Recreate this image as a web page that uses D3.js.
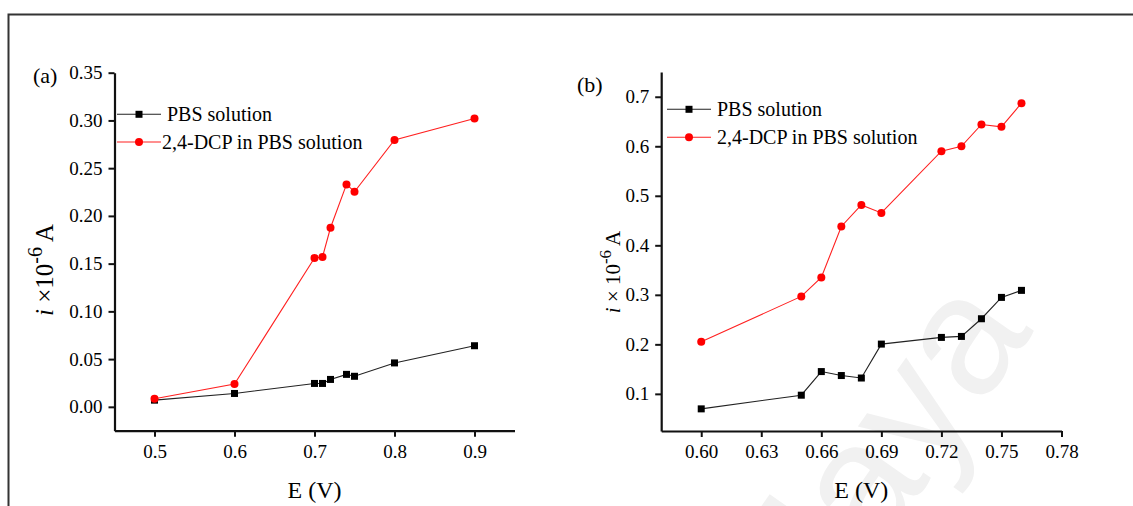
<!DOCTYPE html>
<html>
<head>
<meta charset="utf-8">
<script src="https://cdn.jsdelivr.net/npm/d3@7/dist/d3.min.js"></script>
<style>
  html, body { margin: 0; padding: 0; background: #fff; }
  svg { display: block; }
  text { font-family: "Liberation Serif", "Times New Roman", serif; fill: #000; }
</style>
</head>
<body>
<svg id="chart" width="1133" height="506"></svg>
<script>
// Panel (a): current vs potential
const potentialA = [0.5, 0.6, 0.7, 0.71, 0.72, 0.74, 0.75, 0.8, 0.9];
const pbsA = [0.007, 0.014, 0.0245, 0.0245, 0.0287, 0.034, 0.032, 0.046, 0.064];
const dcpA = [0.0084, 0.0238, 0.156, 0.157, 0.1876, 0.233, 0.2253, 0.2795, 0.302];
const xTicksA = [0.5, 0.6, 0.7, 0.8, 0.9];
const yTicksA = [0.00, 0.05, 0.10, 0.15, 0.20, 0.25, 0.30, 0.35];

// Panel (b): current vs potential, narrower window
const potentialB = [0.60, 0.65, 0.66, 0.67, 0.68, 0.69, 0.72, 0.73, 0.74, 0.75, 0.76];
const pbsB = [0.0697, 0.0973, 0.145, 0.137, 0.132, 0.2005, 0.214, 0.216, 0.2517, 0.2948, 0.309];
const dcpB = [0.205, 0.2968, 0.335, 0.438, 0.4815, 0.4654, 0.59, 0.60, 0.644, 0.6393, 0.687];
const xTicksB = [0.60, 0.63, 0.66, 0.69, 0.72, 0.75, 0.78];
const yTicksB = [0.1, 0.2, 0.3, 0.4, 0.5, 0.6, 0.7];

const seriesNames = ["PBS solution", "2,4-DCP in PBS solution"];

const svg = d3.select("#chart");

// faint diagonal watermark behind panel (b)
svg.append("text")
  .attr("transform", "translate(720,780) rotate(-55)")
  .style("font-family", "'Liberation Sans', Arial, sans-serif")
  .style("font-size", "170px")
  .style("fill", "#f1f1f1")
  .text("Malaya");

// outer frame (top and left edges)
svg.append("path")
  .attr("d", "M8.5,506 V14.5 H1133")
  .attr("fill", "none")
  .attr("stroke", "#333")
  .attr("stroke-width", 2);

function drawPanel(cfg) {
  const x = d3.scaleLinear().domain(cfg.xDomain).range(cfg.xRange);
  const y = d3.scaleLinear().domain(cfg.yDomain).range(cfg.yRange);
  const g = svg.append("g");

  const xAxis = g.append("g")
    .attr("transform", `translate(0,${cfg.yRange[0]})`)
    .call(d3.axisBottom(x).tickValues(cfg.xTicks).tickFormat(d3.format(cfg.xFmt))
      .tickSizeInner(6).tickSizeOuter(0).tickPadding(8));
  const yAxis = g.append("g")
    .attr("transform", `translate(${cfg.xRange[0]},0)`)
    .call(d3.axisLeft(y).tickValues(cfg.yTicks).tickFormat(d3.format(cfg.yFmt))
      .tickSizeInner(6).tickSizeOuter(0).tickPadding(6));
  [xAxis, yAxis].forEach(a => {
    a.attr("font-family", null).attr("font-size", null);
    a.select(".domain").attr("stroke", "#111").attr("stroke-width", 2.2);
    a.selectAll(".tick line").attr("stroke", "#111").attr("stroke-width", 2);
    a.selectAll(".tick text")
      .style("font-family", "'Liberation Serif', 'Times New Roman', serif")
      .style("font-size", "19px").attr("fill", "#000");
  });

  const line = d3.line().x(d => x(d[0])).y(d => y(d[1]));
  const black = cfg.xs.map((v, i) => [v, cfg.pbs[i]]);
  const red = cfg.xs.map((v, i) => [v, cfg.dcp[i]]);

  g.append("path").datum(black).attr("d", line)
    .attr("fill", "none").attr("stroke", "#222").attr("stroke-width", 1.1);
  g.append("path").datum(red).attr("d", line)
    .attr("fill", "none").attr("stroke", "#ff2020").attr("stroke-width", 1.1);

  g.selectAll(".sq").data(black).join("rect")
    .attr("x", d => x(d[0]) - 3.5).attr("y", d => y(d[1]) - 3.5)
    .attr("width", 7).attr("height", 7).attr("fill", "#000");
  g.selectAll(".ci").data(red).join("circle")
    .attr("cx", d => x(d[0])).attr("cy", d => y(d[1])).attr("r", 4)
    .attr("fill", "#ff0000");

  // legend
  const lg = cfg.legend;
  const rowsY = [lg.y0, lg.y1];
  const colors = ["#222", "#ff2020"];
  rowsY.forEach((ry, i) => {
    g.append("line").attr("x1", lg.x1).attr("x2", lg.x2).attr("y1", ry).attr("y2", ry)
      .attr("stroke", colors[i]).attr("stroke-width", 1.1);
    const mx = (lg.x1 + lg.x2) / 2;
    if (i === 0) {
      g.append("rect").attr("x", mx - 3.5).attr("y", ry - 3.5).attr("width", 7).attr("height", 7).attr("fill", "#000");
    } else {
      g.append("circle").attr("cx", mx).attr("cy", ry).attr("r", 4).attr("fill", "#ff0000");
    }
    g.append("text").attr("x", lg.tx[i]).attr("y", ry + 7)
      .style("font-size", "20px").text(seriesNames[i]);
  });

  // panel tag
  g.append("text").attr("x", cfg.tag.x).attr("y", cfg.tag.y)
    .style("font-size", "22px").text(cfg.tag.t);

  // axis titles
  const cx = (cfg.xRange[0] + cfg.xRange[1]) / 2;
  g.append("text").attr("x", cx).attr("y", cfg.xTitleY)
    .attr("text-anchor", "middle").style("font-size", "24px").text("E (V)");

  const yt = g.append("text")
    .attr("transform", `translate(${cfg.yTitle.x},${cfg.yTitle.y}) rotate(-90)`)
    .attr("text-anchor", "middle").style("font-size", cfg.yTitle.size + "px");
  yt.append("tspan").style("font-style", "italic").text("i");
  yt.append("tspan").text(cfg.yTitle.mid);
  yt.append("tspan").attr("dy", "-0.55em").style("font-size", "0.8em").text("-6");
  yt.append("tspan").attr("dy", "0.44em").text(" A");
}

drawPanel({
  xs: potentialA, pbs: pbsA, dcp: dcpA,
  xDomain: [0.45, 0.95], xRange: [114.5, 514.5],
  yDomain: [-0.025, 0.35], yRange: [430.7, 72.7],
  xTicks: xTicksA, yTicks: yTicksA, xFmt: ".1f", yFmt: ".2f",
  legend: { x1: 117, x2: 161, y0: 114.3, y1: 142, tx: [167, 162] },
  tag: { x: 33, y: 83, t: "(a)" },
  xTitleY: 498,
  yTitle: { x: 53, y: 270, size: 25, mid: " \u00d710" }
});

drawPanel({
  xs: potentialB, pbs: pbsB, dcp: dcpB,
  xDomain: [0.58, 0.78], xRange: [661.2, 1061.5],
  yDomain: [0.025, 0.75], yRange: [431, 72],
  xTicks: xTicksB, yTicks: yTicksB, xFmt: ".2f", yFmt: ".1f",
  legend: { x1: 667, x2: 711, y0: 109.3, y1: 137.3, tx: [717, 717] },
  tag: { x: 577, y: 92, t: "(b)" },
  xTitleY: 498,
  yTitle: { x: 620, y: 272, size: 21, mid: " \u00d7 10" }
});
</script>
</body>
</html>
